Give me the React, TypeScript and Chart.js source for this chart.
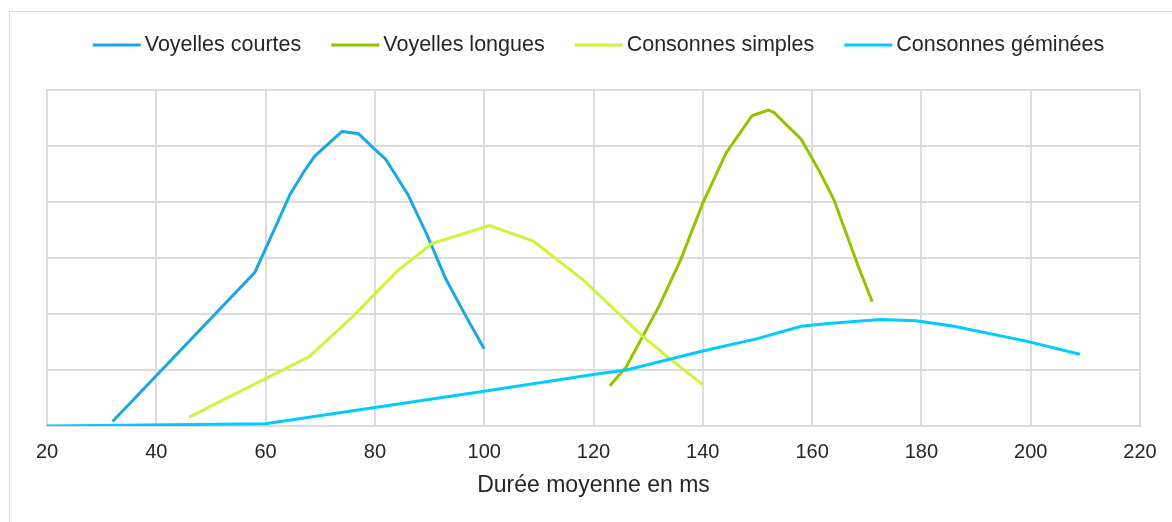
import React, { useEffect, useRef } from 'react';
import { Chart, registerables } from 'chart.js';

Chart.register(...registerables);

const FONT = '"Liberation Sans", Arial, sans-serif';
const TEXT_COLOR = '#262626';
const GRID_COLOR = '#dcdcdc';

const seriesNames = ['Voyelles courtes', 'Voyelles longues', 'Consonnes simples', 'Consonnes géminées'];
const seriesColors = ['#1ba7e2', '#92c400', '#ccf53a', '#00ccff'];

const courtesX = [32, 58, 61, 64.5, 67, 69, 74, 77, 80, 82, 86, 89.5, 93, 97, 100];
const courtesY = [0.4, 13.7, 16.9, 20.7, 22.7, 24.1, 26.3, 26.1, 24.7, 23.8, 20.7, 17.1, 13.1, 9.5, 6.9];

const longuesX = [123, 126, 132, 136, 140, 144.3, 149, 152, 153, 158, 161.5, 164, 168.4, 171];
const longuesY = [3.6, 5.3, 10.7, 14.9, 19.9, 24.4, 27.7, 28.2, 28.0, 25.6, 22.6, 20.2, 14.3, 11.1];

const simplesX = [46, 68, 76, 84, 90.5, 101, 109, 118, 129, 134, 140];
const simplesY = [0.8, 6.2, 9.8, 13.8, 16.3, 17.9, 16.5, 13.1, 8.0, 6.0, 3.7];

const gemineesX = [20, 60, 100, 120, 126, 140, 150, 158, 163, 172.5, 179, 186, 189, 199, 209];
const gemineesY = [0, 0.2, 3.1, 4.6, 5.0, 6.7, 7.8, 8.9, 9.15, 9.5, 9.4, 8.9, 8.6, 7.6, 6.4];

const xTicks = [20, 40, 60, 80, 100, 120, 140, 160, 180, 200, 220];
const yGrid = [0, 5, 10, 15, 20, 25, 30];
const xTitle = 'Durée moyenne en ms';

const seriesX = [courtesX, longuesX, simplesX, gemineesX];
const seriesY = [courtesY, longuesY, simplesY, gemineesY];

const lineLegend = {
  id: 'lineLegend',
  afterDraw(chart: any) {
    const ctx = chart.ctx;
    ctx.save();
    ctx.font = `21.5px ${FONT}`;
    ctx.textBaseline = 'middle';
    ctx.textAlign = 'left';
    const sample = 48;
    const gap = 4;
    const spacing = 30;
    const items = chart.data.datasets.map((ds: any) => ({
      label: ds.label,
      color: ds.borderColor,
      w: ctx.measureText(ds.label).width,
    }));
    const total =
      items.reduce((s: number, it: any) => s + sample + gap + it.w, 0) + spacing * (items.length - 1);
    let x = chart.width / 2 - total / 2;
    const y = 33;
    items.forEach((it: any) => {
      ctx.strokeStyle = it.color;
      ctx.lineWidth = 3;
      ctx.beginPath();
      ctx.moveTo(x, y);
      ctx.lineTo(x + sample, y);
      ctx.stroke();
      ctx.fillStyle = TEXT_COLOR;
      ctx.fillText(it.label, x + sample + gap, y);
      x += sample + gap + it.w + spacing;
    });
    ctx.restore();
  },
};

export default function App() {
  const canvasRef = useRef<HTMLCanvasElement | null>(null);

  useEffect(() => {
    document.body.style.margin = '0';
    const canvas = canvasRef.current;
    if (!canvas) return;
    const datasets = seriesNames.map((name, i) => ({
      label: name,
      data: seriesX[i].map((x, j) => ({ x, y: seriesY[i][j] })),
      borderColor: seriesColors[i],
      backgroundColor: seriesColors[i],
      borderWidth: 3,
      pointRadius: 0,
      pointHoverRadius: 0,
      showLine: true,
      tension: 0,
      fill: false,
      order: seriesNames.length - i,
    }));
    const chart = new Chart(canvas, {
      type: 'scatter',
      data: { datasets },
      options: {
        responsive: false,
        animation: false,
        devicePixelRatio: 1,
        layout: { padding: { top: 78, left: 0, right: 47, bottom: 0 } },
        plugins: {
          legend: { display: false },
          tooltip: { enabled: false },
        },
        scales: {
          x: {
            type: 'linear',
            min: 20,
            max: 220,
            afterBuildTicks: (s: any) => {
              s.ticks = xTicks.map((v) => ({ value: v }));
            },
            afterFit: (s: any) => {
              s.height = 106;
            },
            ticks: {
              padding: 14,
              color: TEXT_COLOR,
              font: { family: FONT, size: 20 },
              maxRotation: 0,
              autoSkip: false,
            },
            grid: { color: GRID_COLOR, drawTicks: false, lineWidth: 2 },
            border: { color: GRID_COLOR, width: 2 },
            title: {
              display: true,
              text: xTitle,
              color: TEXT_COLOR,
              font: { family: FONT, size: 23 },
              padding: { top: 0, bottom: 33 },
            },
          },
          y: {
            type: 'linear',
            min: 0,
            max: 30,
            afterBuildTicks: (s: any) => {
              s.ticks = yGrid.map((v) => ({ value: v }));
            },
            afterFit: (s: any) => {
              s.width = 37;
            },
            ticks: { display: false },
            grid: { color: GRID_COLOR, drawTicks: false, lineWidth: 2 },
            border: { color: GRID_COLOR, width: 2 },
          },
        },
      },
      plugins: [lineLegend],
    } as any);
    return () => chart.destroy();
  }, []);

  return (
    <div style={{ position: 'relative', width: 1172, height: 522, overflow: 'hidden', background: '#fff' }}>
      <div
        style={{
          position: 'absolute',
          left: 9,
          top: 11,
          width: 1177,
          height: 520,
          border: `1px solid ${GRID_COLOR}`,
        }}
      >
        <canvas ref={canvasRef} width={1177} height={520} style={{ display: 'block' }} />
      </div>
    </div>
  );
}
